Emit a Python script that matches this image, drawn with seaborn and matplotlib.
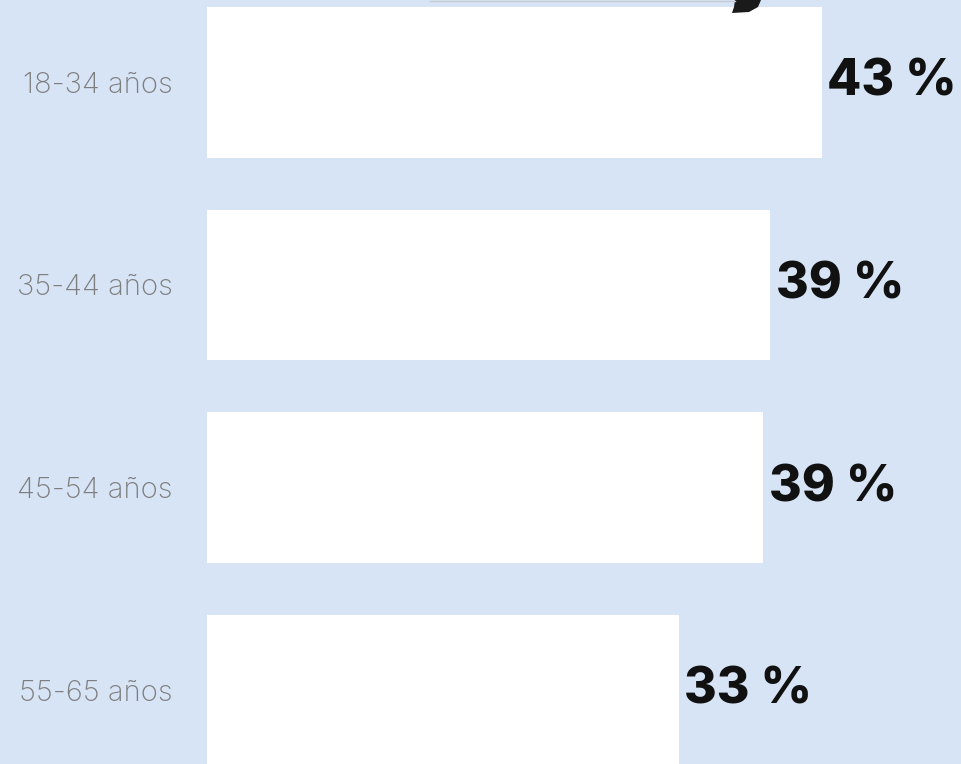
import matplotlib
matplotlib.use("Agg")
import matplotlib.pyplot as plt
import seaborn as sns
import pandas as pd
from matplotlib.patches import Polygon
from matplotlib.lines import Line2D

categories = ["18-34 años", "35-44 años", "45-54 años", "55-65 años"]
values = [43.0, 39.4, 38.9, 33.0]
value_labels = ["43 %", "39 %", "39 %", "33 %"]

BG = "#D7E4F5"
W, H = 962, 764
fig = plt.figure(figsize=(W / 100, H / 100), dpi=100, facecolor=BG)
ax = fig.add_axes([207.5 / W, 0, 1 - 207.5 / W, 1])
ax.set_facecolor(BG)

df = pd.DataFrame({"cat": categories, "val": values})
sns.barplot(data=df, x="val", y="cat", color="white", saturation=1,
            width=0.745, linewidth=0, ax=ax)

ax.set_xlim(0, (W - 207.5) / 14.28)
ax.set_ylim(3.365, -0.407)
for s in ax.spines.values():
    s.set_visible(False)
ax.set_xticks([])
ax.set_xlabel("")
ax.set_ylabel("")
ax.tick_params(axis="y", length=0, pad=25)
for t in ax.get_yticklabels():
    t.set_fontfamily(["Inter", "DejaVu Sans"])
    t.set_fontweight("light")
    t.set_fontsize(21)
    t.set_color("#7E7E7E")

ax.bar_label(ax.containers[0], labels=value_labels, padding=4,
             fontsize=36, fontweight="heavy", color="#111111",
             family=["Inter", "DejaVu Sans"])

# cropped decoration at top
fig.add_artist(Line2D([430 / W, 735 / W], [1 - 1 / H, 1 - 1 / H],
                      color="#C4CAD3", lw=1.0, transform=fig.transFigure))
pts = [(735, 0), (761, 0), (758, 7), (749, 12), (732, 13), (734, 7)]
fig.add_artist(Polygon([(x / W, 1 - y / H) for x, y in pts], closed=True,
                       facecolor="#1A1A1A", edgecolor="none",
                       transform=fig.transFigure))

fig.savefig("out.png", dpi=100, facecolor=BG)
